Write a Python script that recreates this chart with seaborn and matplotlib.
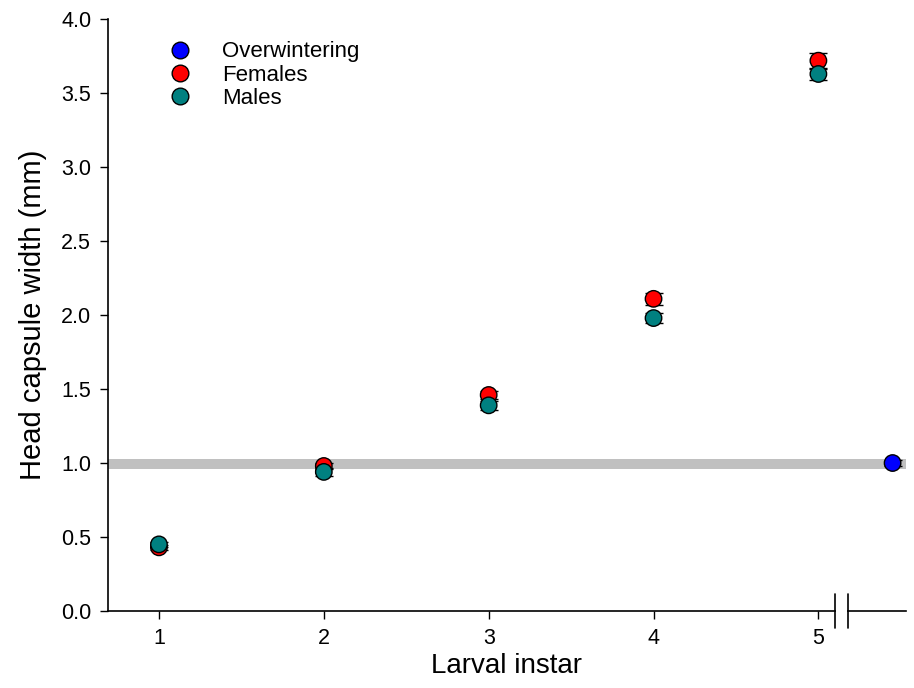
import matplotlib
matplotlib.use("Agg")
import matplotlib.pyplot as plt
import matplotlib.transforms as mtransforms
import numpy as np
import pandas as pd
import seaborn as sns

# Head capsule width (mm) per larval instar, mean and SE
instars = [1, 2, 3, 4, 5]
females_mean = [0.43, 0.98, 1.46, 2.11, 3.72]
females_se = [0.015, 0.02, 0.03, 0.04, 0.055]
males_mean = [0.45, 0.94, 1.39, 1.98, 3.63]
males_se = [0.015, 0.025, 0.03, 0.035, 0.04]
overwinter_mean = [1.00]
overwinter_se = [0.02]
band_low, band_high = 0.96, 1.03

OVERWINTER_X = 5.45  # plotted beyond the axis break
palette = {"Overwintering": "#0000FF", "Females": "#FF0000", "Males": "#008080"}

df = pd.concat([
    pd.DataFrame({"x": [OVERWINTER_X], "width": overwinter_mean, "se": overwinter_se,
                  "group": "Overwintering"}),
    pd.DataFrame({"x": instars, "width": females_mean, "se": females_se, "group": "Females"}),
    pd.DataFrame({"x": instars, "width": males_mean, "se": males_se, "group": "Males"}),
], ignore_index=True)

sns.set_style("ticks")
plt.rcParams["font.family"] = ["Liberation Sans", "DejaVu Sans"]
plt.rcParams["text.color"] = "black"
plt.rcParams["axes.labelcolor"] = "black"

fig = plt.figure(figsize=(9.14, 6.88), dpi=100)
ax = fig.add_axes([0.118, 0.112, 0.873, 0.860])

ax.axhspan(band_low, band_high, color="#c0c0c0", lw=0, zorder=1)

for name, sub in df.groupby("group", sort=False):
    ax.errorbar(sub["x"], sub["width"], yerr=sub["se"], fmt="none", ecolor="black",
                elinewidth=1, capsize=6.5, capthick=1, zorder=2)

sns.scatterplot(data=df, x="x", y="width", hue="group", palette=palette,
                hue_order=["Overwintering", "Females", "Males"], s=140,
                edgecolor="black", linewidth=1, ax=ax, zorder=3, legend=True)

ax.set_xlim(0.69, 5.53)
ax.set_ylim(0, 4.0)
ax.set_xticks(instars)
ax.set_yticks(np.arange(0, 4.01, 0.5))
ax.set_yticklabels([f"{v:.1f}" for v in np.arange(0, 4.01, 0.5)])
ax.tick_params(axis="both", direction="out", length=6, width=1, labelsize=15.5,
               colors="black", pad=6)
for side in ["top", "right"]:
    ax.spines[side].set_visible(False)
for side in ["left", "bottom"]:
    ax.spines[side].set_linewidth(1.2)
    ax.spines[side].set_color("black")

ax.set_xlabel("Larval instar", fontsize=20, labelpad=3)
ax.set_ylabel("Head capsule width (mm)", fontsize=21, labelpad=10)

# axis break on the x axis
trans = mtransforms.blended_transform_factory(ax.transData, ax.transAxes)
ax.fill_between([5.105, 5.175], -0.01, 0.01, color="white", transform=trans,
                clip_on=False, zorder=5, lw=0)
for xb in [5.10, 5.18]:
    ax.plot([xb, xb], [-0.029, 0.029], color="black", lw=1.2, transform=trans,
            clip_on=False, zorder=6)

leg = ax.legend(loc="upper left", bbox_to_anchor=(0.035, 1.0), frameon=False,
                fontsize=16, handletextpad=0.9, labelspacing=0.1, borderaxespad=0.6)
for h in leg.legend_handles:
    h.set_markersize(12)
    h.set_markeredgecolor("black")
    h.set_markeredgewidth(1)

fig.savefig("out.png", dpi=100)
